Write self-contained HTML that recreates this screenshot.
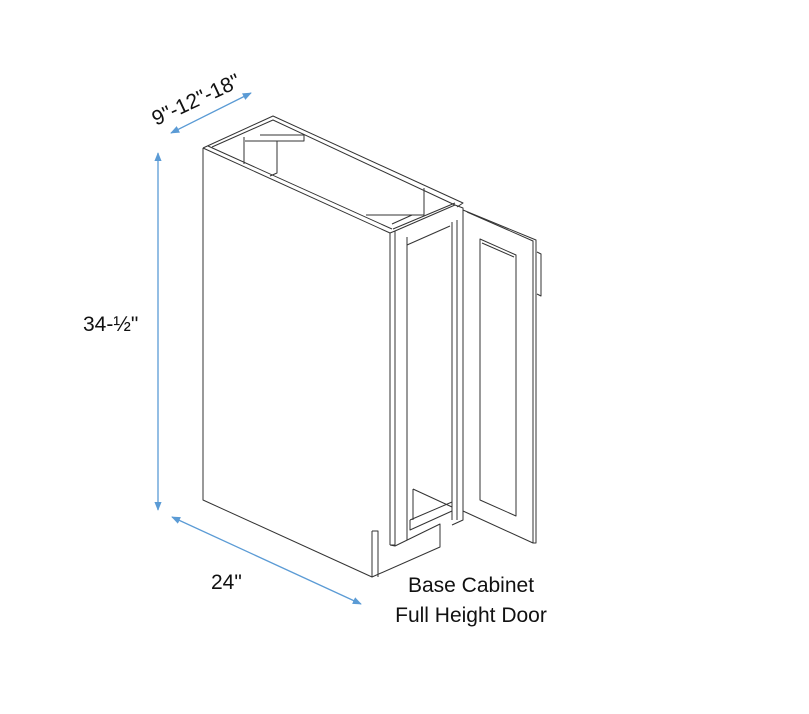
<!DOCTYPE html>
<html><head><meta charset="utf-8"><style>
html,body{margin:0;padding:0;background:#fff;}
svg{display:block;}
text{font-family:"Liberation Sans",sans-serif;fill:#111;}
</style></head><body>
<svg width="809" height="714" viewBox="0 0 809 714" xmlns="http://www.w3.org/2000/svg">
<defs>
<marker id="a" viewBox="0 0 10 10" refX="9" refY="5" markerWidth="7" markerHeight="7" orient="auto-start-reverse">
<path d="M0,1 L10,5 L0,9 z" fill="#5b9bd5"/></marker>
</defs>
<g stroke="#5b9bd5" stroke-width="1.3" fill="none">
<line x1="158" y1="153" x2="158" y2="510" marker-start="url(#a)" marker-end="url(#a)"/>
<line x1="171" y1="133" x2="251" y2="93" marker-start="url(#a)" marker-end="url(#a)"/>
<line x1="172" y1="517" x2="361" y2="604" marker-start="url(#a)" marker-end="url(#a)"/>
</g>
<g stroke="#333" stroke-width="1" fill="none" stroke-linejoin="round">
<path d="M203,148 L203,500 L372,577 L372,531"/>
<path d="M203,148 L390,233 L390,545"/>
<path d="M208,146 L392,229"/>
<path d="M203,148 L273,116 L463,203 L457,207"/>
<path d="M212,147 L273,120 L455,205"/>
<path d="M244,137 L244,164 M260,135 L304,135 L304,141 L245,141 M277,141 L277,173 L270,176"/>
<path d="M424,188 L424,215 L366,215 M412,215 L392,224"/>
<path d="M390,233 L395,231 L395,545 L390,545"/>
<path d="M395,231 L455,205 L463,208 L463,520 L452,525"/>
<path d="M393,229 L455,203"/>
<path d="M407,237 L407,540 M407,245 L450,226 M452,222 L452,520 M457,220 L457,520"/>
<path d="M390,545 L395,546 L440,524 L440,547 L372,577"/>
<path d="M372,531 L378,531 L378,577"/>
<path d="M410,520 L410,530 L452,511 M410,520 L452,502 M413,489 L452,507 M413,489 L413,520"/>
<path d="M463,210 L536,240 L536,543 L533,543 L463,511 Z"/>
<path d="M467,212 L533,241 L533,543"/>
<path d="M480,239 L516,255 L516,516 L480,500 Z"/>
<path d="M482,243 L514,257"/>
<path d="M537,252 L541,254 L541,296 L537,294"/>
</g>
<text x="83" y="331" font-size="21">34-½"</text>
<text x="211" y="589" font-size="21">24"</text>
<text x="0" y="0" font-size="21" transform="translate(156,126) rotate(-25)">9"-12"-18"</text>
<text x="471" y="592" font-size="21" text-anchor="middle">Base Cabinet</text>
<text x="471" y="622" font-size="21" text-anchor="middle">Full Height Door</text>
</svg>
</body></html>
